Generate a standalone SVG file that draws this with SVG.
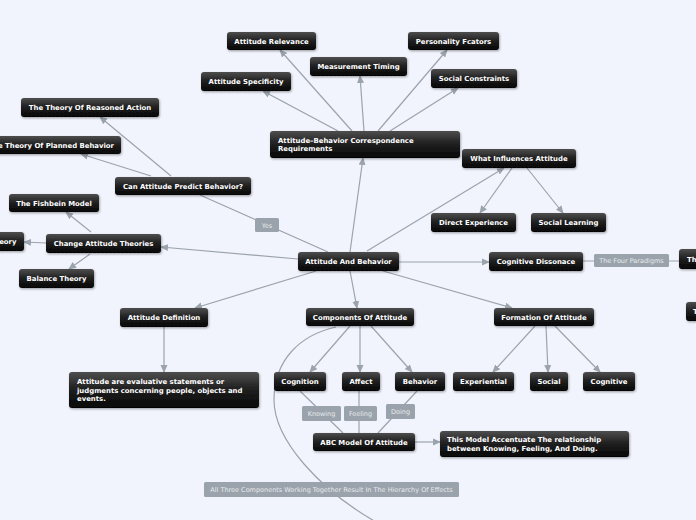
<svg xmlns="http://www.w3.org/2000/svg" width="696" height="520" viewBox="0 0 696 520">
<defs>
<linearGradient id="g" x1="0" y1="0" x2="0" y2="1">
<stop offset="0" stop-color="#4e4e4e"/>
<stop offset="0.45" stop-color="#222"/>
<stop offset="1" stop-color="#050505"/>
</linearGradient>
<filter id="sh" x="-10%" y="-20%" width="130%" height="160%">
<feDropShadow dx="0.8" dy="1.2" stdDeviation="1" flood-color="#000" flood-opacity="0.35"/>
</filter>
<marker id="ar" viewBox="0 0 8 8" refX="7" refY="4" markerWidth="8" markerHeight="8" markerUnits="userSpaceOnUse" orient="auto">
<path d="M0,0.5 L8,4 L0,7.5 Z" fill="#9ba3ac"/>
</marker>
<style>
.n rect{fill:url(#g);filter:url(#sh)}
.n text{fill:#fff;font-family:"DejaVu Sans",Verdana,sans-serif;font-weight:bold;font-size:6.9px;text-anchor:middle}
.n text.l{text-anchor:start}
.c path,.c line{stroke:#9ba3ac;stroke-width:1.2;fill:none}
.c .a{marker-end:url(#ar)}
.lb rect{fill:#9aa3ab}
.lb text{fill:#e6eaee;font-family:"DejaVu Sans",Verdana,sans-serif;font-size:6.5px;text-anchor:middle}
</style>
</defs>
<rect width="696" height="520" fill="#f1f4fd"/>
<g class="c" id="connectors">
<line class="a" x1="350" y1="252" x2="363" y2="158"/>
<line class="a" x1="338" y1="131" x2="263" y2="91"/>
<line class="a" x1="352" y1="131" x2="280" y2="50"/>
<line class="a" x1="364" y1="131" x2="360" y2="76"/>
<line class="a" x1="378" y1="131" x2="447" y2="50"/>
<line class="a" x1="390" y1="131" x2="458" y2="88"/>
<line class="a" x1="367" y1="251" x2="504" y2="168"/>
<line class="a" x1="512" y1="168" x2="480" y2="213"/>
<line class="a" x1="527" y1="168" x2="563" y2="213"/>
<line class="a" x1="399" y1="262" x2="489" y2="262"/>
<line x1="583" y1="261" x2="679" y2="261"/>
<line x1="328" y1="252" x2="200" y2="195"/>
<line class="a" x1="171" y1="176" x2="100" y2="117"/>
<line class="a" x1="151" y1="176" x2="81" y2="154"/>
<line class="a" x1="298" y1="259" x2="161" y2="247"/>
<line class="a" x1="91" y1="232" x2="66" y2="212"/>
<line class="a" x1="46" y1="243" x2="24" y2="242"/>
<line class="a" x1="90" y1="254" x2="69" y2="269"/>
<line class="a" x1="316" y1="271" x2="195" y2="308"/>
<line class="a" x1="164" y1="327" x2="164" y2="372"/>
<line class="a" x1="350" y1="271" x2="357" y2="308"/>
<line class="a" x1="383" y1="271" x2="512" y2="308"/>
<line class="a" x1="350" y1="326" x2="310" y2="372"/>
<line class="a" x1="360" y1="326" x2="360" y2="372"/>
<line class="a" x1="371" y1="326" x2="412" y2="372"/>
<line class="a" x1="535" y1="326" x2="493" y2="372"/>
<line class="a" x1="546" y1="326" x2="548" y2="372"/>
<line class="a" x1="555" y1="326" x2="600" y2="372"/>
<line x1="300" y1="391" x2="343" y2="433"/>
<line x1="359" y1="391" x2="359" y2="433"/>
<line x1="417" y1="391" x2="378" y2="433"/>
<line class="a" x1="415" y1="442" x2="440" y2="442"/>
<path d="M336,327 C300,335 274,360 274,400 C274,440 320,490 376,522"/>
</g>
<g class="lb" id="label-yes"><rect x="255" y="218" width="24" height="14" rx="1.5"/><text x="267" y="227.5">Yes</text></g>
<g class="lb" id="label-paradigms"><rect x="594" y="254" width="75" height="13" rx="1.5"/><text x="631.5" y="263">The Four Paradigms</text></g>
<g class="lb" id="label-knowing"><rect x="302" y="406" width="39" height="15" rx="1.5"/><text x="321.5" y="416">Knowing</text></g>
<g class="lb" id="label-feeling"><rect x="344" y="406" width="33" height="15" rx="1.5"/><text x="360.5" y="416">Feeling</text></g>
<g class="lb" id="label-doing"><rect x="386" y="404" width="29" height="15" rx="1.5"/><text x="400.5" y="414">Doing</text></g>
<g class="lb" id="label-hierarchy"><rect x="204" y="482" width="255" height="15" rx="1.5"/><text x="331.5" y="491.5">All Three Components Working Together Result In The Hierarchy Of Effects</text></g>

<g class="n" id="n-relevance"><rect x="227" y="32" width="89" height="18" rx="3"/><text x="271.5" y="43.5">Attitude Relevance</text></g>
<g class="n" id="n-personality"><rect x="408" y="32" width="91" height="18" rx="3"/><text x="453.5" y="43.5">Personality Fcators</text></g>
<g class="n" id="n-timing"><rect x="310" y="57" width="97" height="19" rx="3"/><text x="358.5" y="69">Measurement Timing</text></g>
<g class="n" id="n-specificity"><rect x="201" y="72" width="90" height="19" rx="3"/><text x="246" y="84">Attitude Specificity</text></g>
<g class="n" id="n-constraints"><rect x="431" y="69" width="86" height="19" rx="3"/><text x="474" y="81">Social Constraints</text></g>
<g class="n" id="n-correspondence"><rect x="270" y="131" width="190" height="27" rx="3"/><text class="l" x="278" y="142.5">Attitude–Behavior Correspondence</text><text class="l" x="278" y="151">Requirements</text></g>
<g class="n" id="n-influences"><rect x="462" y="149" width="114" height="19" rx="3"/><text x="519" y="161">What Influences Attitude</text></g>
<g class="n" id="n-direct"><rect x="431" y="213" width="85" height="19" rx="3"/><text x="473.5" y="225">Direct Experience</text></g>
<g class="n" id="n-social-learning"><rect x="531" y="213" width="75" height="19" rx="3"/><text x="568.5" y="225">Social Learning</text></g>
<g class="n" id="n-dissonance"><rect x="489" y="252" width="94" height="19" rx="3"/><text x="536" y="264">Cognitive Dissonace</text></g>
<g class="n" id="n-th"><rect x="679" y="249" width="40" height="20" rx="3"/><text class="l" x="687" y="261.5">Th</text></g>
<g class="n" id="n-t"><rect x="686" y="302" width="30" height="19" rx="3"/><text class="l" x="693" y="314">T</text></g>
<g class="n" id="n-reasoned"><rect x="21" y="98" width="138" height="19" rx="3"/><text x="90" y="110">The Theory Of Reasoned Action</text></g>
<g class="n" id="n-planned"><rect x="-25" y="136" width="146" height="18" rx="3"/><text x="114" y="147.5" style="text-anchor:end">The Theory Of Planned Behavior</text></g>
<g class="n" id="n-predict"><rect x="115" y="177" width="136" height="18" rx="3"/><text x="183" y="188.5">Can Attitude Predict Behavior?</text></g>
<g class="n" id="n-fishbein"><rect x="9" y="194" width="90" height="18" rx="3"/><text x="54" y="205.5">The Fishbein Model</text></g>
<g class="n" id="n-theory"><rect x="-40" y="232" width="64" height="19" rx="3"/><text x="16.5" y="244" style="text-anchor:end">Theory</text></g>
<g class="n" id="n-change"><rect x="46" y="234" width="115" height="19" rx="3"/><text x="103.5" y="246">Change Attitude Theories</text></g>
<g class="n" id="n-balance"><rect x="19" y="269" width="75" height="19" rx="3"/><text x="56.5" y="281">Balance Theory</text></g>
<g class="n" id="n-root"><rect x="298" y="252" width="101" height="19" rx="3"/><text x="348.5" y="264">Attitude And Behavior</text></g>
<g class="n" id="n-components"><rect x="306" y="308" width="108" height="18" rx="3"/><text x="360" y="319.5">Components Of Attitude</text></g>
<g class="n" id="n-definition"><rect x="120" y="308" width="88" height="19" rx="3"/><text x="164" y="320">Attitude Definition</text></g>
<g class="n" id="n-definition-text"><rect x="69" y="372" width="190" height="36" rx="3"/><text class="l" x="77" y="384">Attitude are evaluative statements or</text><text class="l" x="77" y="392.5">judgments concerning people, objects and</text><text class="l" x="77" y="401">events.</text></g>
<g class="n" id="n-formation"><rect x="494" y="308" width="100" height="18" rx="3"/><text x="544" y="319.5">Formation Of Attitude</text></g>
<g class="n" id="n-cognition"><rect x="274" y="372" width="52" height="19" rx="3"/><text x="300" y="384">Cognition</text></g>
<g class="n" id="n-affect"><rect x="342" y="372" width="38" height="19" rx="3"/><text x="361" y="384">Affect</text></g>
<g class="n" id="n-behavior"><rect x="395" y="372" width="50" height="19" rx="3"/><text x="420" y="384">Behavior</text></g>
<g class="n" id="n-experiential"><rect x="453" y="372" width="61" height="19" rx="3"/><text x="483.5" y="384">Experiential</text></g>
<g class="n" id="n-social"><rect x="530" y="372" width="38" height="19" rx="3"/><text x="549" y="384">Social</text></g>
<g class="n" id="n-cognitive"><rect x="583" y="372" width="52" height="19" rx="3"/><text x="609" y="384">Cognitive</text></g>
<g class="n" id="n-abc"><rect x="313" y="433" width="102" height="18" rx="3"/><text x="364" y="444.5">ABC Model Of Attitude</text></g>
<g class="n" id="n-abc-text"><rect x="440" y="431" width="189" height="26" rx="3"/><text class="l" x="447" y="441.5">This Model Accentuate The relationship</text><text class="l" x="447" y="450.5">between Knowing, Feeling, And Doing.</text></g>
</svg>
